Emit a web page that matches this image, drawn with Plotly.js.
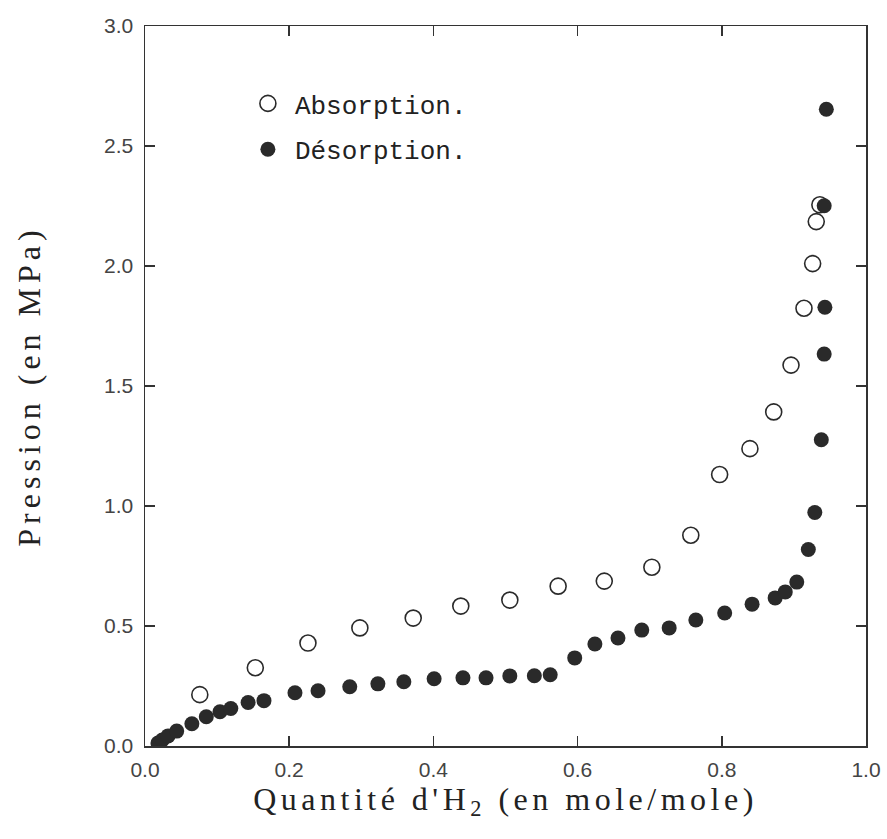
<!DOCTYPE html>
<html>
<head>
<meta charset="utf-8">
<script src="https://cdn.plot.ly/plotly-3.0.1.min.js"></script>
<style>html,body{margin:0;padding:0;background:#fff;}#chart{width:887px;height:839px;}</style>
</head>
<body>
<div id="chart"></div>
<script>
const absX = [0.076,0.153,0.226,0.298,0.372,0.438,0.506,0.573,0.637,0.703,0.757,0.797,0.839,0.872,0.896,0.914,0.926,0.931,0.936];
const absY = [0.214,0.326,0.429,0.492,0.533,0.583,0.608,0.666,0.687,0.745,0.878,1.131,1.239,1.392,1.587,1.824,2.010,2.185,2.255];

const desX = [0.018,0.024,0.032,0.044,0.065,0.085,0.104,0.119,0.143,0.165,0.208,0.240,0.284,0.323,0.359,0.401,0.441,0.473,0.506,0.540,0.562,0.596,0.624,0.656,0.689,0.727,0.764,0.804,0.842,0.874,0.888,0.904,0.920,0.929,0.938,0.942,0.943,0.942,0.945];
const desY = [0.012,0.025,0.042,0.062,0.093,0.122,0.143,0.156,0.181,0.189,0.222,0.230,0.247,0.259,0.268,0.280,0.284,0.284,0.292,0.293,0.297,0.367,0.425,0.450,0.483,0.492,0.525,0.554,0.591,0.617,0.642,0.683,0.819,0.973,1.276,1.633,1.828,2.251,2.653];

const xTicks = [0, 0.2, 0.4, 0.6, 0.8, 1.0];
const xTickText = ['0.0','0.2','0.4','0.6','0.8','1.0'];
const yTicks = [0, 0.5, 1.0, 1.5, 2.0, 2.5, 3.0];
const yTickText = ['0.0','0.5','1.0','1.5','2.0','2.5','3.0'];

const ink = '#2a2a2a';

const traces = [
  {x: absX, y: absY, mode: 'markers', type: 'scatter', name: 'Absorption.', legendgroup: 'a',
   marker: {symbol: 'circle-open', size: 16, color: ink, line: {width: 1.6, color: ink}}},
  {x: desX, y: desY, mode: 'markers', type: 'scatter', name: 'Désorption.', legendgroup: 'd',
   marker: {symbol: 'circle', size: 15, color: ink, line: {width: 0}}}
];

const axisCommon = {
  showgrid: false, zeroline: false, showline: true, mirror: 'ticks',
  linecolor: '#333', linewidth: 1.5, ticks: 'inside', ticklen: 10, tickwidth: 1.5, tickcolor: '#333',
  tickfont: {family: 'Liberation Sans, Arial, sans-serif', size: 21, color: '#444'}
};

const layout = {
  width: 887, height: 839,
  margin: {l: 145, r: 21, t: 26, b: 93},
  paper_bgcolor: '#fff', plot_bgcolor: '#fff',
  showlegend: true,
  legend: {x: 0.133, y: 0.925, xanchor: 'left', yanchor: 'top', bgcolor: 'rgba(0,0,0,0)',
           font: {family: 'Liberation Mono, Courier New, monospace', size: 26, color: '#222'},
           traceorder: 'grouped', tracegroupgap: 9, itemwidth: 44},
  xaxis: Object.assign({}, axisCommon, {
    range: [0, 1], tickvals: xTicks, ticktext: xTickText, ticklabelstandoff: 4,
    title: {text: "<span style=\"letter-spacing:4.5px\">Quantité d'H<sub>2</sub> (en mole/mole)</span>", standoff: 3,
            font: {family: 'Liberation Serif, Times New Roman, serif', size: 32, color: '#222'}}
  }),
  yaxis: Object.assign({}, axisCommon, {
    range: [0, 3], tickvals: yTicks, ticktext: yTickText, ticklabelstandoff: 6,
    title: {text: '<span style="letter-spacing:5px">Pression (en MPa)</span>', standoff: 54,
            font: {family: 'Liberation Serif, Times New Roman, serif', size: 32, color: '#222'}}
  })
};

Plotly.newPlot('chart', traces, layout, {displayModeBar: false, staticPlot: true});
</script>
</body>
</html>
